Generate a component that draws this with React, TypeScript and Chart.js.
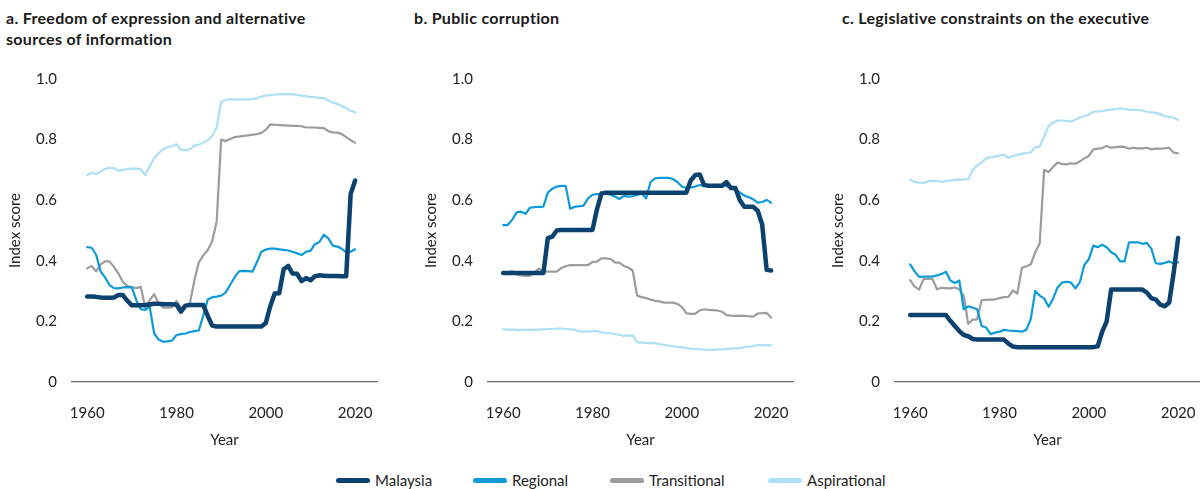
import React, { useEffect, useRef } from "react";
import { Chart, registerables } from "chart.js";

Chart.register(...registerables);

// ---------- data ----------
const years = [
  1960, 1961, 1962, 1963, 1964, 1965, 1966, 1967, 1968, 1969,
  1970, 1971, 1972, 1973, 1974, 1975, 1976, 1977, 1978, 1979,
  1980, 1981, 1982, 1983, 1984, 1985, 1986, 1987, 1988, 1989,
  1990, 1991, 1992, 1993, 1994, 1995, 1996, 1997, 1998, 1999,
  2000, 2001, 2002, 2003, 2004, 2005, 2006, 2007, 2008, 2009,
  2010, 2011, 2012, 2013, 2014, 2015, 2016, 2017, 2018, 2019, 2020,
];
const xTickYears = [1960, 1980, 2000, 2020];
const yTickValues = [0, 0.2, 0.4, 0.6, 0.8, 1.0];

const seriesNames = ["Malaysia", "Regional", "Transitional", "Aspirational"];
const seriesColors = ["#0b426f", "#0d9ad8", "#9c9c9e", "#ade0f7"];
const seriesWidths = [4.5, 2.2, 2.2, 2.2];

const panelTitles = [
  ["a. Freedom of expression and alternative", "sources of information"],
  ["b. Public corruption"],
  ["c. Legislative constraints on the executive"],
];

// a. Freedom of expression
const freedomMalaysia = [
  0.282, 0.282, 0.281, 0.279, 0.278, 0.278, 0.279, 0.287, 0.287, 0.268,
  0.253, 0.253, 0.253, 0.254, 0.256, 0.258, 0.258, 0.257, 0.257, 0.257,
  0.255, 0.232, 0.252, 0.254, 0.254, 0.254, 0.254, 0.218, 0.186, 0.183,
  0.183, 0.183, 0.183, 0.183, 0.183, 0.183, 0.183, 0.183, 0.183, 0.183,
  0.195, 0.250, 0.292, 0.293, 0.372, 0.383, 0.358, 0.357, 0.333, 0.343,
  0.336, 0.349, 0.352, 0.351, 0.350, 0.350, 0.350, 0.349, 0.349, 0.620, 0.665,
];
const freedomRegional = [
  0.445, 0.443, 0.420, 0.365, 0.345, 0.320, 0.310, 0.309, 0.312, 0.313,
  0.312, 0.270, 0.240, 0.238, 0.248, 0.160, 0.140, 0.133, 0.134, 0.137,
  0.155, 0.158, 0.160, 0.165, 0.168, 0.170, 0.220, 0.272, 0.280, 0.282,
  0.285, 0.295, 0.320, 0.345, 0.365, 0.367, 0.366, 0.364, 0.395, 0.430,
  0.437, 0.440, 0.440, 0.438, 0.436, 0.434, 0.430, 0.425, 0.419, 0.430,
  0.433, 0.455, 0.462, 0.486, 0.474, 0.450, 0.447, 0.440, 0.428, 0.430, 0.438,
];
const freedomTransitional = [
  0.375, 0.383, 0.365, 0.388, 0.398, 0.398, 0.380, 0.358, 0.330, 0.317,
  0.313, 0.310, 0.314, 0.245, 0.270, 0.290, 0.260, 0.245, 0.245, 0.246,
  0.268, 0.245, 0.250, 0.260, 0.335, 0.395, 0.418, 0.435, 0.465, 0.530,
  0.800, 0.795, 0.802, 0.808, 0.810, 0.812, 0.814, 0.816, 0.818, 0.822,
  0.832, 0.850, 0.849, 0.848, 0.847, 0.846, 0.845, 0.845, 0.844, 0.840,
  0.840, 0.840, 0.839, 0.838, 0.828, 0.824, 0.823, 0.818, 0.808, 0.798, 0.790,
];
const freedomAspirational = [
  0.683, 0.690, 0.686, 0.695, 0.703, 0.707, 0.706, 0.697, 0.700, 0.703,
  0.705, 0.704, 0.702, 0.683, 0.712, 0.738, 0.755, 0.768, 0.776, 0.778,
  0.785, 0.766, 0.765, 0.768, 0.780, 0.783, 0.790, 0.798, 0.812, 0.840,
  0.925, 0.930, 0.934, 0.932, 0.933, 0.933, 0.933, 0.934, 0.936, 0.942,
  0.945, 0.947, 0.948, 0.950, 0.950, 0.950, 0.949, 0.948, 0.945, 0.943,
  0.940, 0.940, 0.938, 0.937, 0.930, 0.922, 0.918, 0.911, 0.904, 0.895, 0.890,
];

// b. Public corruption
const corruptionMalaysia = [
  0.360, 0.360, 0.360, 0.360, 0.360, 0.360, 0.360, 0.360, 0.360, 0.360,
  0.475, 0.480, 0.500, 0.502, 0.502, 0.502, 0.502, 0.502, 0.502, 0.502,
  0.502, 0.570, 0.622, 0.625, 0.625, 0.625, 0.625, 0.625, 0.625, 0.625,
  0.625, 0.625, 0.625, 0.625, 0.625, 0.625, 0.625, 0.625, 0.625, 0.625,
  0.625, 0.625, 0.665, 0.683, 0.685, 0.650, 0.648, 0.648, 0.648, 0.648,
  0.660, 0.640, 0.640, 0.600, 0.578, 0.578, 0.578, 0.565, 0.520, 0.370, 0.368,
];
const corruptionRegional = [
  0.518, 0.518, 0.535, 0.560, 0.562, 0.555, 0.575, 0.577, 0.578, 0.579,
  0.625, 0.638, 0.645, 0.647, 0.647, 0.572, 0.578, 0.580, 0.582, 0.606,
  0.618, 0.620, 0.620, 0.622, 0.618, 0.612, 0.604, 0.614, 0.612, 0.613,
  0.617, 0.622, 0.606, 0.660, 0.672, 0.674, 0.674, 0.674, 0.670, 0.660,
  0.645, 0.640, 0.642, 0.645, 0.650, 0.648, 0.647, 0.648, 0.650, 0.648,
  0.647, 0.640, 0.634, 0.626, 0.615, 0.610, 0.603, 0.592, 0.594, 0.601, 0.592,
];
const corruptionTransitional = [
  0.362, 0.360, 0.366, 0.355, 0.352, 0.350, 0.350, 0.362, 0.374, 0.366,
  0.364, 0.364, 0.364, 0.376, 0.382, 0.386, 0.386, 0.386, 0.386, 0.386,
  0.396, 0.397, 0.408, 0.408, 0.406, 0.395, 0.394, 0.383, 0.378, 0.368,
  0.285, 0.280, 0.277, 0.272, 0.268, 0.266, 0.262, 0.262, 0.262, 0.258,
  0.248, 0.227, 0.225, 0.225, 0.236, 0.240, 0.238, 0.237, 0.236, 0.232,
  0.221, 0.219, 0.218, 0.219, 0.218, 0.217, 0.216, 0.226, 0.227, 0.228, 0.213,
];
const corruptionAspirational = [
  0.174, 0.173, 0.173, 0.172, 0.172, 0.172, 0.172, 0.172, 0.173, 0.174,
  0.175, 0.175, 0.176, 0.176, 0.175, 0.174, 0.173, 0.167, 0.166, 0.166,
  0.168, 0.168, 0.164, 0.162, 0.161, 0.158, 0.156, 0.152, 0.153, 0.154,
  0.131, 0.130, 0.129, 0.128, 0.128, 0.125, 0.122, 0.120, 0.118, 0.116,
  0.114, 0.112, 0.110, 0.109, 0.108, 0.107, 0.106, 0.106, 0.107, 0.108,
  0.109, 0.110, 0.111, 0.112, 0.115, 0.117, 0.118, 0.122, 0.122, 0.122, 0.121,
];

// c. Legislative constraints
const legislativeMalaysia = [
  0.221, 0.221, 0.221, 0.221, 0.221, 0.221, 0.221, 0.221, 0.221, 0.202,
  0.185, 0.168, 0.155, 0.151, 0.142, 0.140, 0.140, 0.140, 0.140, 0.140,
  0.140, 0.140, 0.127, 0.117, 0.115, 0.115, 0.115, 0.115, 0.115, 0.115,
  0.115, 0.115, 0.115, 0.115, 0.115, 0.115, 0.115, 0.115, 0.115, 0.115,
  0.115, 0.115, 0.118, 0.166, 0.200, 0.305, 0.305, 0.305, 0.305, 0.305,
  0.305, 0.305, 0.305, 0.295, 0.277, 0.272, 0.255, 0.250, 0.262, 0.360, 0.475,
];
const legislativeRegional = [
  0.388, 0.365, 0.347, 0.348, 0.348, 0.348, 0.352, 0.356, 0.364, 0.335,
  0.327, 0.335, 0.240, 0.250, 0.245, 0.240, 0.185, 0.180, 0.158, 0.163,
  0.166, 0.172, 0.170, 0.169, 0.168, 0.166, 0.172, 0.208, 0.300, 0.285,
  0.276, 0.248, 0.275, 0.312, 0.328, 0.331, 0.328, 0.309, 0.330, 0.386,
  0.405, 0.450, 0.445, 0.453, 0.445, 0.428, 0.420, 0.398, 0.398, 0.461,
  0.461, 0.461, 0.456, 0.459, 0.440, 0.392, 0.390, 0.393, 0.398, 0.392, 0.395,
];
const legislativeTransitional = [
  0.336, 0.315, 0.305, 0.340, 0.340, 0.340, 0.306, 0.311, 0.310, 0.309,
  0.312, 0.306, 0.285, 0.192, 0.206, 0.207, 0.270, 0.271, 0.272, 0.273,
  0.277, 0.280, 0.281, 0.302, 0.292, 0.376, 0.382, 0.388, 0.428, 0.458,
  0.700, 0.693, 0.710, 0.724, 0.720, 0.718, 0.722, 0.720, 0.728, 0.738,
  0.746, 0.768, 0.770, 0.772, 0.779, 0.773, 0.775, 0.777, 0.776, 0.770,
  0.773, 0.771, 0.771, 0.773, 0.768, 0.770, 0.770, 0.771, 0.773, 0.757, 0.755,
];
const legislativeAspirational = [
  0.668, 0.660, 0.658, 0.657, 0.662, 0.665, 0.663, 0.661, 0.663, 0.665,
  0.667, 0.668, 0.668, 0.670, 0.700, 0.715, 0.724, 0.738, 0.742, 0.744,
  0.748, 0.750, 0.740, 0.746, 0.750, 0.753, 0.756, 0.758, 0.775, 0.777,
  0.810, 0.845, 0.856, 0.863, 0.863, 0.862, 0.860, 0.865, 0.873, 0.877,
  0.882, 0.892, 0.893, 0.894, 0.897, 0.899, 0.901, 0.903, 0.901, 0.898,
  0.898, 0.898, 0.896, 0.892, 0.890, 0.888, 0.884, 0.878, 0.875, 0.872, 0.865,
];

const panelSeries = [
  [freedomMalaysia, freedomRegional, freedomTransitional, freedomAspirational],
  [corruptionMalaysia, corruptionRegional, corruptionTransitional, corruptionAspirational],
  [legislativeMalaysia, legislativeRegional, legislativeTransitional, legislativeAspirational],
];

// ---------- layout ----------
const FONT = "Lato, 'Noto Sans', sans-serif";
const TEXT = "#222222";
const Y_AXIS_W = 72;
const PLOT_W = 305;
const PAD_R = 24;
const CANVAS_H = 460;
const PLOT_TOP = 79;
const PLOT_BOTTOM = 382;
const TICK_SIZE = 15;

const panelAxisLeft = [72, 488, 895];
const panelTitleLeft = [6, 414, 842];
const legendLeft = [336, 473, 610, 768];

function Panel({ index }: { index: number }) {
  const ref = useRef<HTMLCanvasElement | null>(null);
  useEffect(() => {
    if (!ref.current) return;
    const series = panelSeries[index];
    const chart = new Chart(ref.current, {
      type: "line",
      data: {
        datasets: series.map((vals, i) => ({
          label: seriesNames[i],
          data: years.map((yr, k) => ({ x: yr, y: vals[k] })),
          borderColor: seriesColors[i],
          backgroundColor: seriesColors[i],
          borderWidth: seriesWidths[i],
          pointRadius: 0,
          pointHoverRadius: 0,
          tension: 0,
          fill: false,
          borderJoinStyle: "round",
          borderCapStyle: "round",
        })),
      },
      options: {
        responsive: false,
        maintainAspectRatio: false,
        animation: false,
        events: [],
        layout: { padding: { top: PLOT_TOP, right: PAD_R, bottom: 0, left: 0 } },
        plugins: {
          legend: { display: false },
          tooltip: { enabled: false },
          title: { display: false },
        },
        scales: {
          x: {
            type: "linear",
            min: 1956.6,
            max: 2024.9,
            afterBuildTicks: (s: any) => {
              s.ticks = xTickYears.map((v) => ({ value: v }));
            },
            afterFit: (s: any) => {
              s.height = CANVAS_H - PLOT_BOTTOM;
            },
            grid: { display: true, color: "rgba(0,0,0,0)", drawTicks: false, drawOnChartArea: false },
            border: { display: true, color: "#6b6b6b", width: 1.2 },
            ticks: {
              padding: 22,
              color: TEXT,
              font: { family: FONT, size: TICK_SIZE },
              maxRotation: 0,
              autoSkip: false,
              callback: (v: any) => String(v),
            },
            title: {
              display: true,
              text: "Year",
              color: TEXT,
              font: { family: FONT, size: TICK_SIZE },
              padding: { top: 0, bottom: 11 },
            },
          },
          y: {
            type: "linear",
            min: 0,
            max: 1,
            afterBuildTicks: (s: any) => {
              s.ticks = yTickValues.map((v) => ({ value: v }));
            },
            afterFit: (s: any) => {
              s.width = Y_AXIS_W;
            },
            grid: { display: true, color: "rgba(0,0,0,0)", drawTicks: false, drawOnChartArea: false },
            border: { display: false },
            ticks: {
              padding: 15,
              color: TEXT,
              font: { family: FONT, size: TICK_SIZE },
              callback: (v: any) => (Number(v) === 0 ? "0" : Number(v).toFixed(1)),
            },
            title: {
              display: true,
              text: "Index score",
              color: TEXT,
              font: { family: FONT, size: TICK_SIZE },
              padding: { top: 6, bottom: 0 },
            },
          },
        },
      } as any,
    });
    return () => chart.destroy();
  }, [index]);

  const canvasLeft = panelAxisLeft[index] - Y_AXIS_W;
  const w = Y_AXIS_W + PLOT_W + PAD_R;
  return (
    <>
      <div
        style={{
          position: "absolute",
          left: panelTitleLeft[index],
          top: 7,
          fontFamily: FONT,
          fontWeight: 700,
          fontSize: 16,
          letterSpacing: "0.3px",
          lineHeight: "21px",
          color: "#1a1a1a",
          whiteSpace: "nowrap",
        }}
      >
        {panelTitles[index].map((t, i) => (
          <div key={i}>{t}</div>
        ))}
      </div>
      <canvas
        ref={ref}
        width={w}
        height={CANVAS_H}
        style={{ position: "absolute", left: canvasLeft, top: 0, width: w, height: CANVAS_H }}
      />
    </>
  );
}

function Legend() {
  return (
    <>
      {seriesNames.map((name, i) => (
        <div
          key={name}
          style={{
            position: "absolute",
            left: legendLeft[i],
            top: 470,
            height: 20,
            display: "flex",
            alignItems: "center",
            fontFamily: FONT,
            fontSize: 15,
            color: TEXT,
            whiteSpace: "nowrap",
          }}
        >
          <span
            style={{
              display: "inline-block",
              width: 34,
              height: 5,
              borderRadius: 3,
              background: seriesColors[i],
              marginRight: 5,
            }}
          />
          <span>{name}</span>
        </div>
      ))}
    </>
  );
}

export default function App() {
  return (
    <div
      style={{
        position: "absolute",
        left: 0,
        top: 0,
        width: 1200,
        height: 489,
        overflow: "hidden",
        background: "#ffffff",
      }}
    >
      <Panel index={0} />
      <Panel index={1} />
      <Panel index={2} />
      <Legend />
    </div>
  );
}
